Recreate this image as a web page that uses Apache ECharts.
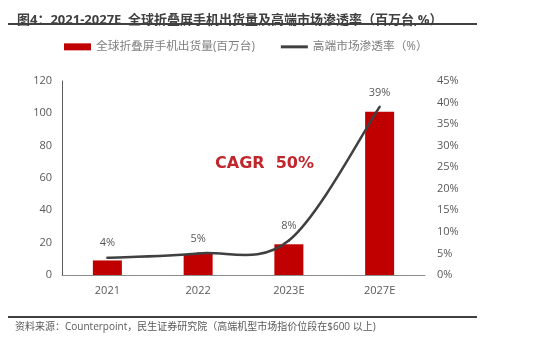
<!DOCTYPE html>
<html><head><meta charset="utf-8">
<script src="https://cdn.jsdelivr.net/npm/echarts@6/dist/echarts.min.js"></script>
<style>html,body{margin:0;padding:0;background:#fff}#c{width:537px;height:340px}</style>
</head><body><div id="c"></div>
<script>
var categories = ['2021', '2022', '2023E', '2027E'];
var shipments = [9, 13, 19, 101];
var penetration = [4, 5, 8, 39];
var leftTicks = {min: 0, max: 120, interval: 20};
var rightTicks = {min: 0, max: 45, interval: 5};
var barName = '全球折叠屏手机出货量(百万台)';
var lineName = '高端市场渗透率（%）';

var CJK = '"Open Sans","Noto Sans CJK SC",sans-serif';
var NUM = '"Open Sans",sans-serif';
var LINE_COLOR = '#404040';

// Smooth (Catmull-Rom style, like the office chart smoothing) line drawn
// through the library's own coordinate conversion.
function renderPenetration(params, api) {
  var i = params.dataIndex;
  var n = penetration.length;
  var pts = penetration.map(function (v, k) { return api.coord([categories[k], v]); });
  var children = [];
  if (i < n - 1) {
    var p0 = pts[Math.max(i - 1, 0)], p1 = pts[i], p2 = pts[i + 1], p3 = pts[Math.min(i + 2, n - 1)];
    var t = 1 / 6;
    children.push({
      type: 'bezierCurve',
      shape: {
        x1: p1[0], y1: p1[1], x2: p2[0], y2: p2[1],
        cpx1: p1[0] + (p2[0] - p0[0]) * t, cpy1: p1[1] + (p2[1] - p0[1]) * t,
        cpx2: p2[0] - (p3[0] - p1[0]) * t, cpy2: p2[1] - (p3[1] - p1[1]) * t
      },
      style: {stroke: LINE_COLOR, lineWidth: 2.5, fill: null, lineCap: 'round'}
    });
  }
  children.push({
    type: 'text', x: pts[i][0], y: pts[i][1] - 9,
    style: {text: penetration[i] + '%', align: 'center', verticalAlign: 'bottom', fill: '#595959', fontSize: 11, fontFamily: NUM}
  });
  return {type: 'group', children: children};
}

var chart = echarts.init(document.getElementById('c'), null, {renderer: 'canvas'});
chart.setOption({
  animation: false,
  backgroundColor: '#fff',
  title: {
    text: '图4：2021-2027E  全球折叠屏手机出货量及高端市场渗透率（百万台,%）',
    left: 12, top: 9,
    textStyle: {fontSize: 13, fontWeight: 'bold', color: '#404040', fontFamily: CJK}
  },
  graphic: [
    {type: 'line', shape: {x1: 8, y1: 24, x2: 477, y2: 24}, style: {stroke: '#404040', lineWidth: 2}},
    {type: 'line', shape: {x1: 8, y1: 317, x2: 477, y2: 317}, style: {stroke: '#404040', lineWidth: 2}},
    {type: 'text', x: 15, y: 327, style: {text: '资料来源：Counterpoint，民生证券研究院（高端机型市场指价位段在$600 以上)', fontSize: 10, fill: '#595959', fontFamily: CJK, verticalAlign: 'middle'}},
    {type: 'text', x: 215, y: 164, style: {text: 'CAGR  50%', fontSize: 16, fontWeight: 'bold', fill: '#C0262C', fontFamily: '"DejaVu Sans",sans-serif', verticalAlign: 'middle', align: 'left'}}
  ],
  legend: {
    top: 36, left: 59,
    itemWidth: 27, itemHeight: 7, itemGap: 26,
    textStyle: {fontSize: 11.7, color: '#7f7f7f', fontFamily: CJK},
    data: [
      {name: barName, icon: 'rect', itemStyle: {color: '#C00000'}},
      {name: lineName, icon: 'path://M0,0H27V3H0Z', itemStyle: {color: LINE_COLOR}}
    ]
  },
  grid: {left: 62, right: 112, top: 81, bottom: 65},
  xAxis: {
    type: 'category', data: categories,
    axisLine: {lineStyle: {color: '#8c8c8c', width: 1}},
    axisTick: {show: false},
    axisLabel: {color: '#595959', fontSize: 11, margin: 10, fontFamily: NUM}
  },
  yAxis: [
    {
      type: 'value', min: leftTicks.min, max: leftTicks.max, interval: leftTicks.interval,
      axisLine: {show: true, lineStyle: {color: '#595959', width: 1}},
      axisTick: {show: false}, splitLine: {show: false},
      axisLabel: {color: '#595959', fontSize: 11, margin: 10, fontFamily: NUM}
    },
    {
      type: 'value', min: rightTicks.min, max: rightTicks.max, interval: rightTicks.interval,
      axisLine: {show: false}, axisTick: {show: false}, splitLine: {show: false},
      axisLabel: {color: '#595959', fontSize: 11, margin: 12, formatter: '{value}%', fontFamily: NUM}
    }
  ],
  series: [
    {
      name: barName, type: 'bar', data: shipments, barWidth: 29,
      itemStyle: {color: '#C00000'}
    },
    {
      name: lineName, type: 'custom', yAxisIndex: 1, z: 5,
      coordinateSystem: 'cartesian2d',
      data: penetration.map(function (v, k) { return [categories[k], v]; }),
      encode: {x: 0, y: 1},
      itemStyle: {color: LINE_COLOR},
      renderItem: renderPenetration
    }
  ]
});
</script></body></html>
